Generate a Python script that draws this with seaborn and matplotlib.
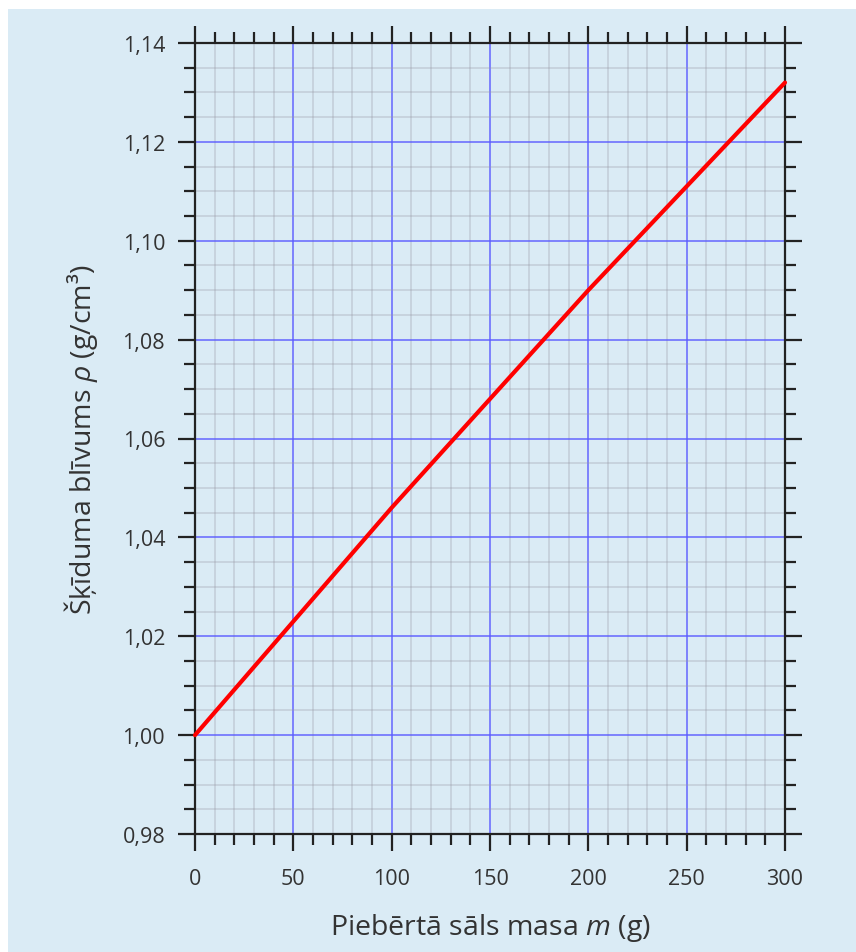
import matplotlib
matplotlib.use("Agg")
import matplotlib.pyplot as plt
import matplotlib.ticker as mticker
from matplotlib.patches import Rectangle
import seaborn as sns
import pandas as pd

# Salt mass added (g) and resulting solution density (g/cm^3)
salt_mass = [0, 50, 100, 150, 200, 250, 300]
density = [1.000, 1.023, 1.046, 1.068, 1.090, 1.111, 1.132]

x_ticks = [0, 50, 100, 150, 200, 250, 300]
y_ticks = [0.98, 1.00, 1.02, 1.04, 1.06, 1.08, 1.10, 1.12, 1.14]

sns.set_theme(style="white")
font = "Open Sans"
plt.rcParams["font.family"] = [font, "DejaVu Sans"]
plt.rcParams["mathtext.fontset"] = "custom"
plt.rcParams["mathtext.rm"] = font
plt.rcParams["mathtext.it"] = f"{font}:italic"

bg = "#daebf5"
text_col = "#333333"

fig = plt.figure(figsize=(8.56, 9.53), dpi=100)
fig.patch.set_facecolor("white")
fig.patches.append(Rectangle((8 / 856, 0), 1 - 8 / 856, 1 - 10 / 953,
                             transform=fig.transFigure, facecolor=bg,
                             edgecolor="none", zorder=-10))

ax = fig.add_axes([195 / 856, 1 - 835 / 953, 590 / 856, 791 / 953])
ax.set_facecolor(bg)

df = pd.DataFrame({"m": salt_mass, "rho": density})
sns.lineplot(data=df, x="m", y="rho", ax=ax, color="#ff0000", lw=3.0,
             zorder=5, clip_on=False)

ax.set_xlim(0, 300)
ax.set_ylim(0.98, 1.14)
ax.set_xticks(x_ticks)
ax.set_yticks(y_ticks)
ax.xaxis.set_minor_locator(mticker.MultipleLocator(10))
ax.yaxis.set_minor_locator(mticker.MultipleLocator(0.005))
ax.yaxis.set_major_formatter(mticker.FuncFormatter(lambda v, p: f"{v:.2f}".replace(".", ",")))
ax.xaxis.set_major_formatter(mticker.FuncFormatter(lambda v, p: f"{v:.0f}"))

ax.grid(which="minor", color="#9a9aa6", alpha=0.35, lw=1.2)
ax.grid(which="major", color="#5a5aff", alpha=0.85, lw=1.2)
ax.set_axisbelow(True)

for s in ax.spines.values():
    s.set_color("#222222")
    s.set_linewidth(1.6)

ax.tick_params(which="both", direction="out", top=True, right=True,
               bottom=True, left=True, color="#222222", width=1.6)
ax.tick_params(which="major", length=12.5, labelsize=15.5,
               labelcolor=text_col, pad=9)
ax.tick_params(which="minor", length=8)
ax.tick_params(axis="x", which="major", pad=12)
ax.tick_params(labeltop=False, labelright=False)

ax.set_xlabel("Piebērtā sāls masa $m$ (g)", fontsize=20.5, color=text_col, labelpad=16)
ax.set_ylabel("Šķīduma blīvums $\\rho$ (g/cm³)", fontsize=20.5, color=text_col, labelpad=16)

fig.savefig("out.png", dpi=100, facecolor=fig.get_facecolor())
